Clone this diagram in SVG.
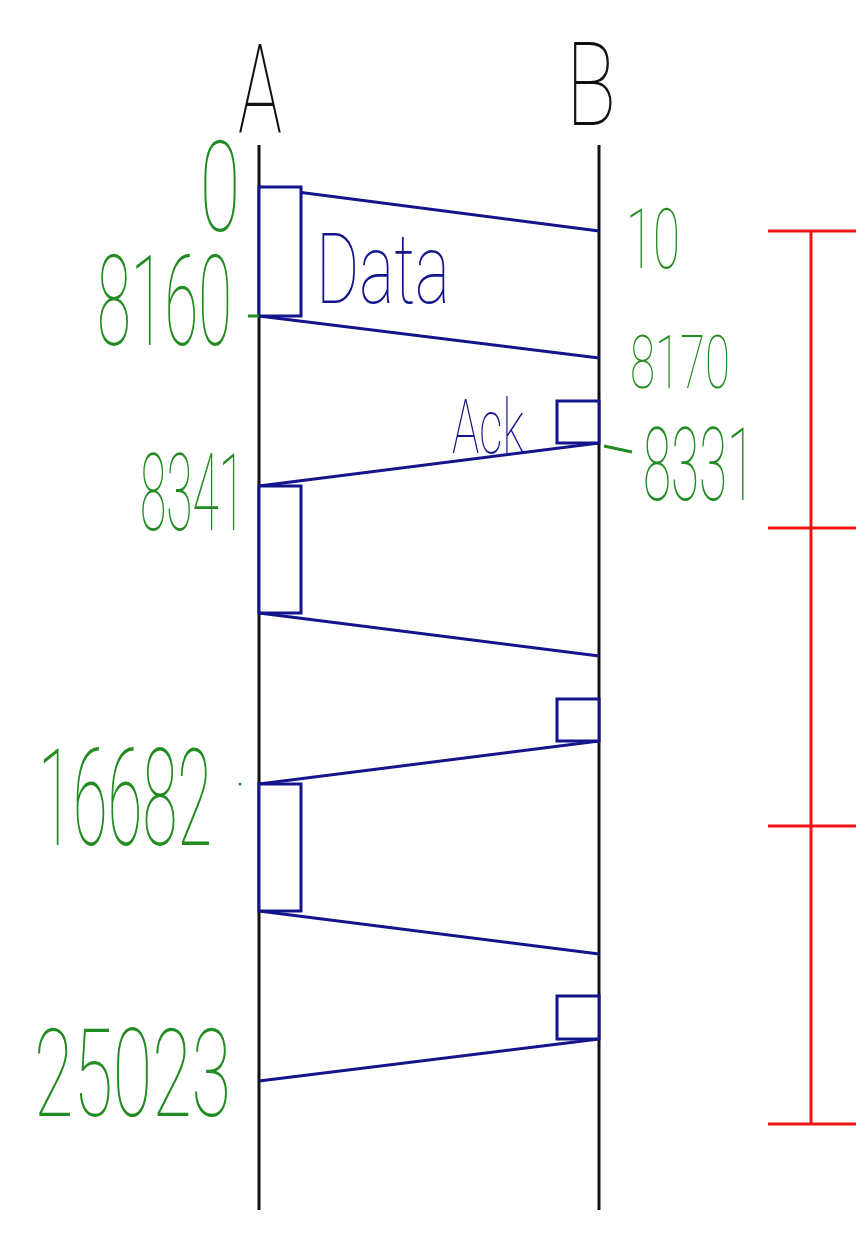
<svg xmlns="http://www.w3.org/2000/svg" width="867" height="1242" viewBox="0 0 867 1242">
<style>
.life{stroke:#111;stroke-width:3;fill:none}
.msg{stroke:#14148c;stroke-width:3;fill:none}
.box{stroke:#14148c;stroke-width:3;fill:#fff}
.red{stroke:#f01414;stroke-width:3;fill:none}
.g{fill:#228b22;font-family:Roboto,"Open Sans",sans-serif;font-weight:100}
.b{fill:#14148c;font-family:Roboto,"Open Sans",sans-serif;font-weight:100}
.k{fill:#111;font-family:Roboto,"Open Sans",sans-serif;font-weight:100}
.gl{stroke:#228b22;stroke-width:3;fill:none}
</style>
<rect width="867" height="1242" fill="#fff"/>
<g id="nodeA">
<text class="k" x="238" y="132" font-size="124" textLength="44" lengthAdjust="spacingAndGlyphs">A</text>
<line class="life" x1="259" y1="145" x2="259" y2="1210"/>
</g>
<g id="nodeB">
<text class="k" x="566" y="125" font-size="116" textLength="50" lengthAdjust="spacingAndGlyphs">B</text>
<line class="life" x1="599" y1="145" x2="599" y2="1210"/>
</g>
<g id="connectors">
<line class="msg" x1="259" y1="187" x2="599" y2="231"/>
<line class="msg" x1="259" y1="316" x2="599" y2="358"/>
<line class="msg" x1="599" y1="443" x2="259" y2="486"/>
<line class="msg" x1="259" y1="613" x2="599" y2="656"/>
<line class="msg" x1="599" y1="741" x2="259" y2="784"/>
<line class="msg" x1="259" y1="911" x2="599" y2="954"/>
<line class="msg" x1="599" y1="1039" x2="259" y2="1081"/>
</g>
<g id="data1"><rect class="box" x="259" y="187" width="42" height="129"/></g>
<g id="ack1"><rect class="box" x="557" y="401" width="42" height="42"/></g>
<g id="data2"><rect class="box" x="259" y="486" width="42" height="127"/></g>
<g id="ack2"><rect class="box" x="557" y="699" width="42" height="42"/></g>
<g id="data3"><rect class="box" x="259" y="784" width="42" height="127"/></g>
<g id="ack3"><rect class="box" x="557" y="996" width="42" height="43"/></g>
<g id="labels">
<text class="b" x="316" y="303" font-size="98" textLength="134" lengthAdjust="spacingAndGlyphs">Data</text>
<text class="b" x="452" y="453" font-size="76" textLength="72" lengthAdjust="spacingAndGlyphs">Ack</text>
<text class="g" x="200" y="231" font-size="126" textLength="40" lengthAdjust="spacingAndGlyphs">0</text>
<text class="g" x="97" y="345" font-size="126" textLength="135" lengthAdjust="spacingAndGlyphs">8160</text>
<line class="gl" x1="248" y1="316" x2="259" y2="316"/>
<text class="g" x="626" y="268" font-size="84" textLength="54" lengthAdjust="spacingAndGlyphs">10</text>
<text class="g" x="630" y="388" font-size="75" textLength="100" lengthAdjust="spacingAndGlyphs">8170</text>
<line class="gl" x1="604" y1="446" x2="632" y2="452"/>
<text class="g" x="643" y="500" font-size="102" textLength="112" lengthAdjust="spacingAndGlyphs">8331</text>
<text class="g" x="140" y="530" font-size="108" textLength="105" lengthAdjust="spacingAndGlyphs">8341</text>
<text class="g" x="38" y="845" font-size="136" textLength="174" lengthAdjust="spacingAndGlyphs">16682</text>
<circle cx="240" cy="784" r="1.5" fill="#228b22"/>
<text class="g" x="34" y="1116" font-size="122" textLength="197" lengthAdjust="spacingAndGlyphs">25023</text>
</g>
<g id="timeline">
<line class="red" x1="811" y1="231" x2="811" y2="1124"/>
<line class="red" x1="768" y1="231" x2="856" y2="231"/>
<line class="red" x1="768" y1="528" x2="856" y2="528"/>
<line class="red" x1="768" y1="826" x2="856" y2="826"/>
<line class="red" x1="768" y1="1124" x2="856" y2="1124"/>
</g>
</svg>
